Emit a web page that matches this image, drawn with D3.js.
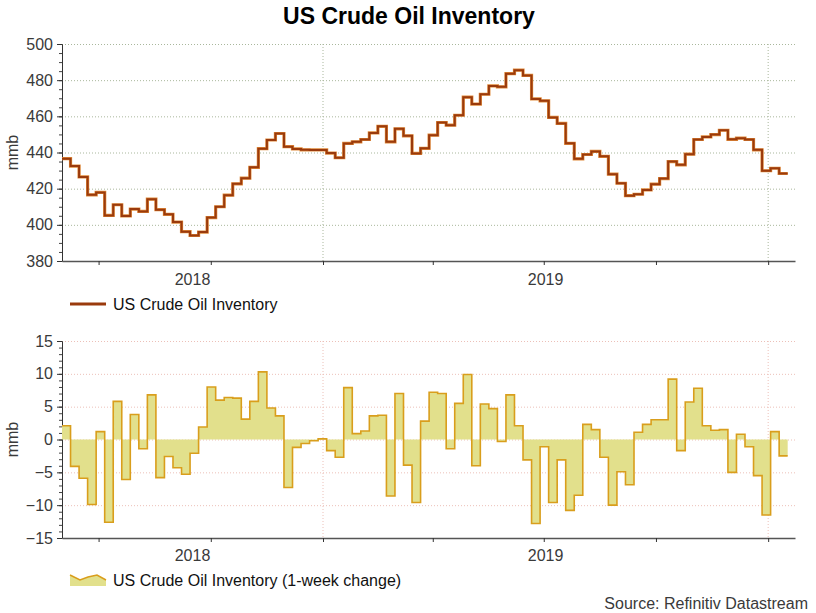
<!DOCTYPE html>
<html>
<head>
<meta charset="utf-8">
<style>
  body { margin: 0; background: #fff; }
  text { font-family: "Liberation Sans", Arial, sans-serif; fill: #3a3a3a; }
  .tick text { font-size: 16px; }
  .grid-top line { stroke: #a9b79c; stroke-dasharray: 1,2; }
  .grid-bot line { stroke: #ecc0b8; stroke-dasharray: 1,2; }
  .grid-top path, .grid-bot path { display: none; }
</style>
</head>
<body>
<div id="chart-area"></div>

<script src="https://cdn.jsdelivr.net/npm/d3@7"></script>
<script>
    const width = 816;
    const height = 613;

    // weekly data, first week ending 1 Jun 2018
    const startDate = new Date(2018, 5, 1);

    // US crude oil inventory, mmb
    const levels = [
        436.6, 432.5, 426.5, 416.6, 417.9, 405.2, 411.1, 404.9, 408.7, 407.4,
        414.2, 408.4, 405.8, 401.5, 396.2, 394.1, 396.0, 404.0, 410.0, 416.4,
        422.7, 425.8, 431.8, 442.1, 446.9, 450.5, 443.2, 442.0, 441.5, 441.4,
        441.4,
        439.7, 437.1, 445.0, 445.9, 447.2, 450.8, 454.5, 445.9, 453.1, 449.2,
        439.5, 442.3, 449.6, 456.6, 455.1, 460.6, 470.6, 466.8, 472.2, 476.8,
        476.3, 483.6, 485.5, 482.6, 469.6, 468.6, 459.4, 456.1, 445.1, 436.5,
        438.9, 440.6, 437.9, 428.0, 423.0, 416.1, 416.9, 419.3, 422.5, 425.6,
        435.0, 433.2, 439.1, 447.2, 448.6, 449.9, 452.3, 447.3, 447.9, 447.2,
        441.5, 429.9,
        431.3, 428.4
    ];

    // 1-week change, mmb
    const changes = [
        2.1, -4.1, -5.9, -9.9, 1.2, -12.6, 5.8, -6.1, 3.8, -1.4,
        6.8, -5.8, -2.6, -4.3, -5.3, -2.1, 1.9, 8.0, 6.0, 6.4,
        6.3, 3.1, 5.8, 10.3, 4.8, 3.6, -7.3, -1.2, -0.6, -0.2,
        0.1,
        -1.7, -2.7, 7.9, 0.9, 1.3, 3.6, 3.7, -8.6, 7.0, -3.9,
        -9.6, 2.8, 7.2, 7.0, -1.4, 5.5, 9.9, -4.0, 5.4, 4.7,
        -0.3, 6.8, 2.1, -3.1, -12.8, -1.1, -9.6, -3.1, -10.8, -8.5,
        2.3, 1.5, -2.7, -10.0, -4.9, -6.9, 1.1, 2.3, 3.0, 3.0,
        9.2, -1.7, 5.7, 7.8, 2.1, 1.4, 1.5, -5.0, 0.8, -1.1,
        -5.5, -11.5,
        1.2, -2.5
    ];

    const topTicks = [380, 400, 420, 440, 460, 480, 500];
    const botTicks = [-15, -10, -5, 0, 5, 10, 15];

    const dates = levels.map((_, i) => d3.timeDay.offset(startDate, 7 * i));
    const endDate = d3.timeDay.offset(dates[dates.length - 1], 7);

    const left = 62, right = 795;

    const svg = d3.select("#chart-area")
        .append("svg")
            .attr("width", width)
            .attr("height", height);

    const x = d3.scaleTime()
        .domain([startDate, new Date(2020, 0, 23)])
        .range([left, right]);

    svg.append("text")
        .attr("x", 409)
        .attr("y", 24)
        .attr("text-anchor", "middle")
        .style("font-size", "23px")
        .style("font-weight", "bold")
        .style("fill", "#000")
        .text("US Crude Oil Inventory");

    // one panel: grid, axes, year labels
    function panel(y, ticks, minorStep, gridClass, top, bottom, labelY) {
        const [lo, hi] = y.domain();

        svg.append("g")
            .attr("class", gridClass)
            .attr("transform", `translate(${left},0)`)
            .call(d3.axisLeft(y).tickValues(ticks.filter(t => t !== lo))
                .tickSize(-(right - left)).tickFormat(""));

        // vertical grid at year starts
        const years = x.ticks(d3.timeYear.every(1)).filter(d => x(d) > left + 1);
        svg.append("g")
            .attr("class", gridClass)
            .selectAll("line")
            .data(years)
            .join("line")
                .attr("x1", d => x(d)).attr("x2", d => x(d))
                .attr("y1", top).attr("y2", bottom);

        // minor y ticks
        svg.append("g")
            .attr("transform", `translate(${left},0)`)
            .call(d3.axisLeft(y).tickValues(d3.range(lo, hi + 0.01, minorStep))
                .tickSize(3).tickFormat(""))
            .call(g => g.selectAll("line").attr("stroke", "#444"))
            .call(g => g.select(".domain").remove());

        svg.append("g")
            .attr("transform", `translate(${left},0)`)
            .call(d3.axisLeft(y).tickValues(ticks).tickSize(5).tickPadding(4))
            .call(g => g.select(".domain").attr("stroke", "#333"))
            .call(g => g.selectAll("line").attr("stroke", "#333"));

        // x axis, quarterly ticks
        svg.append("g")
            .attr("transform", `translate(0,${bottom})`)
            .call(d3.axisBottom(x).ticks(d3.timeMonth.every(3))
                .tickSize(4).tickSizeOuter(0).tickFormat(""))
            .call(g => g.select(".domain").attr("stroke", "#555").attr("stroke-width", 1.5))
            .call(g => g.selectAll("line").attr("stroke", "#333"));

        // year labels centred on visible part of each year
        const spans = d3.timeYear.range(d3.timeYear.floor(startDate), x.domain()[1])
            .map(d => {
                const a = Math.max(x(d), left);
                const b = Math.min(x(d3.timeYear.offset(d, 1)), right);
                return { year: d.getFullYear(), a, b };
            })
            .filter(s => s.b - s.a > 100);

        svg.append("g")
            .selectAll("text")
            .data(spans)
            .join("text")
                .attr("x", s => (s.a + s.b) / 2)
                .attr("y", labelY)
                .attr("text-anchor", "middle")
                .style("font-size", "16px")
                .text(s => s.year);

        svg.append("text")
            .attr("transform", `translate(18,${(top + bottom) / 2}) rotate(-90)`)
            .attr("text-anchor", "middle")
            .style("font-size", "16px")
            .text("mmb");
    }

    // top panel: inventory level
    const yTop = d3.scaleLinear().domain([380, 500]).range([261, 44]);
    panel(yTop, topTicks, 5, "grid-top", 44, 261, 285);

    const levelPts = levels.map((v, i) => ({ date: dates[i], v }));
    levelPts.push({ date: endDate, v: levels[levels.length - 1] });

    const line = d3.line()
        .curve(d3.curveStepAfter)
        .x(d => x(d.date))
        .y(d => yTop(d.v));

    svg.append("path")
        .datum(levelPts)
        .attr("d", line)
        .attr("fill", "none")
        .attr("stroke", "#e08a3a")
        .attr("stroke-width", 3.2);
    svg.append("path")
        .datum(levelPts)
        .attr("d", line)
        .attr("fill", "none")
        .attr("stroke", "#9a3a0c")
        .attr("stroke-width", 2);

    // legend top
    svg.append("line")
        .attr("x1", 70).attr("x2", 106).attr("y1", 304).attr("y2", 304)
        .attr("stroke", "#9a3a0c").attr("stroke-width", 3);
    svg.append("text")
        .attr("x", 113).attr("y", 310)
        .style("font-size", "16px")
        .style("fill", "#111")
        .text("US Crude Oil Inventory");

    // bottom panel: weekly change
    const yBot = d3.scaleLinear().domain([-15, 15]).range([538, 341]);
    panel(yBot, botTicks, 1, "grid-bot", 341, 538, 561);

    const changePts = changes.map((v, i) => ({ date: dates[i], v }));
    changePts.push({ date: endDate, v: changes[changes.length - 1] });

    const area = d3.area()
        .curve(d3.curveStepAfter)
        .x(d => x(d.date))
        .y0(yBot(0))
        .y1(d => yBot(d.v));

    svg.append("path")
        .datum(changePts)
        .attr("d", area)
        .attr("fill", "#e2e08c")
        .attr("stroke", "none");
    svg.append("path")
        .datum(changePts)
        .attr("d", area.lineY1())
        .attr("fill", "none")
        .attr("stroke", "#d99e1c")
        .attr("stroke-width", 1.6);

    // legend bottom
    svg.append("path")
        .attr("d", "M70,586 L70,575 L80,580 L88,577 L97,575 L106,580 L106,586 Z")
        .attr("fill", "#e2e08c");
    svg.append("path")
        .attr("d", "M70,575 L80,580 L88,577 L97,575 L106,580")
        .attr("fill", "none")
        .attr("stroke", "#d99e1c")
        .attr("stroke-width", 1.5);
    svg.append("text")
        .attr("x", 113).attr("y", 586)
        .style("font-size", "16px")
        .style("fill", "#111")
        .text("US Crude Oil Inventory (1-week change)");

    svg.append("text")
        .attr("x", 808).attr("y", 609)
        .attr("text-anchor", "end")
        .style("font-size", "16px")
        .text("Source: Refinitiv Datastream");
</script>
</body>
</html>
